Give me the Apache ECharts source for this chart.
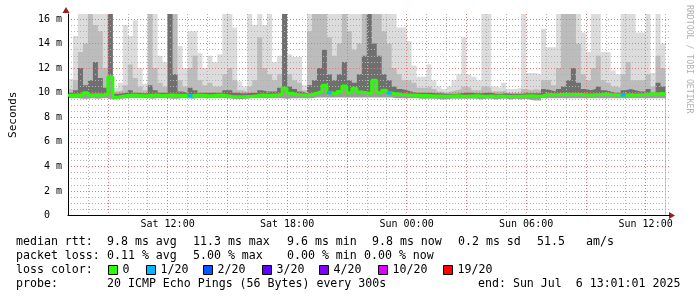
<!DOCTYPE html>
<html><head><meta charset="utf-8">
<script src="https://cdn.jsdelivr.net/npm/echarts@6/dist/echarts.min.js"></script>
<style>html,body{margin:0;padding:0;background:#fff}#c{width:697px;height:297px}</style>
</head><body><div id="c"></div>
<script>
// time axis: hours since Sat 07:00, one column per 15 minutes
const stepHours = 0.25;
const xTickHours = [5, 11, 17, 23, 29];
const xTickLabels = ['Sat 12:00', 'Sat 18:00', 'Sun 00:00', 'Sun 06:00', 'Sun 12:00'];
const yTickValues = [0, 2, 4, 6, 8, 10, 12, 14, 16];
const yTickLabels = ['0  ', '2 m', '4 m', '6 m', '8 m', '10 m', '12 m', '14 m', '16 m'];

// median rtt (ms)
const medianRtt = [
 9.78, 9.80, 9.78, 10.00, 9.80, 9.82, 9.80, 9.86, 11.30, 9.62,
 9.70, 9.76, 9.80, 9.78, 9.75, 9.76, 9.78, 9.80, 9.76, 9.78,
 9.80, 9.78, 9.76, 9.78, 9.74, 9.80, 9.78, 9.76, 9.75, 9.78,
 9.80, 9.74, 9.68, 9.66, 9.66, 9.68, 9.70, 9.74, 9.80, 9.78,
 9.78, 9.80, 9.90, 10.35, 9.95, 9.85, 9.82, 9.80, 9.85, 9.95,
 10.10, 10.60, 10.00, 9.85, 10.10, 10.55, 10.00, 10.35, 10.05, 10.00,
 9.90, 11.00, 10.00, 10.20, 9.97, 9.90, 9.85, 9.82, 9.80, 9.78,
 9.76, 9.76, 9.74, 9.72, 9.72, 9.70, 9.72, 9.74, 9.72, 9.70,
 9.72, 9.74, 9.72, 9.70, 9.72, 9.70, 9.72, 9.70, 9.68, 9.70,
 9.70, 9.72, 9.74, 9.72, 9.70, 9.82, 9.84, 9.82, 9.84, 9.86,
 9.84, 9.86, 9.84, 9.82, 9.80, 9.82, 9.84, 9.88, 9.84, 9.82,
 9.80, 9.80, 9.82, 9.80, 9.82, 9.84, 9.90, 9.86, 9.92, 9.90
];
// lost pings out of 20 per column
const lossCount = [
 0,0,0,0,0,0,0,0,0,0, 0,0,0,0,0,0,0,0,0,0,
 0,0,0,0,1,0,0,0,0,0, 0,0,0,0,0,0,0,0,0,0,
 0,0,0,0,0,0,0,0,0,0, 0,0,1,0,0,0,0,0,0,0,
 0,0,0,0,1,0,0,0,0,0, 0,0,0,0,0,0,0,0,0,0,
 0,0,0,0,0,0,0,0,0,0, 0,0,0,0,0,0,0,0,0,0,
 0,0,0,0,0,0,0,0,0,0, 0,1,0,0,0,0,0,0,0,0
];
// smoke: lowest ping, top of dark core, top of mid band, highest ping (ms)
const smokeLow = [
 9.55, 9.55, 9.50, 9.50, 9.55, 9.50, 9.55, 9.55, 9.45, 9.50,
 9.50, 9.55, 9.55, 9.55, 9.55, 9.55, 9.50, 9.55, 9.55, 9.55,
 9.50, 9.50, 9.55, 9.55, 9.50, 9.55, 9.55, 9.55, 9.55, 9.55,
 9.55, 9.55, 9.50, 9.48, 9.48, 9.50, 9.55, 9.55, 9.55, 9.55,
 9.55, 9.55, 9.55, 9.50, 9.55, 9.55, 9.55, 9.55, 9.55, 9.60,
 9.60, 9.60, 9.60, 9.60, 9.60, 9.60, 9.60, 9.60, 9.60, 9.60,
 9.60, 9.60, 9.60, 9.60, 9.60, 9.55, 9.55, 9.55, 9.55, 9.55,
 9.50, 9.50, 9.50, 9.50, 9.45, 9.45, 9.50, 9.50, 9.50, 9.50,
 9.50, 9.50, 9.45, 9.50, 9.50, 9.45, 9.50, 9.50, 9.45, 9.50,
 9.45, 9.50, 9.40, 9.35, 9.35, 9.55, 9.55, 9.55, 9.55, 9.55,
 9.55, 9.55, 9.55, 9.55, 9.55, 9.55, 9.55, 9.55, 9.55, 9.55,
 9.55, 9.55, 9.55, 9.55, 9.55, 9.55, 9.55, 9.55, 9.55, 9.55
];
const smokeDark = [
 10.0, 10.2, 12.0, 10.6, 11.0, 12.5, 11.2, 10.4, 16.4, 9.9,
 9.95, 10.0, 10.2, 10.0, 9.95, 9.95, 10.6, 10.2, 10.0, 10.0,
 16.4, 11.5, 10.1, 10.0, 10.4, 10.2, 10.0, 10.0, 10.0, 10.0,
 10.0, 10.2, 10.2, 10.0, 9.95, 9.95, 10.0, 10.0, 10.2, 10.1,
 10.1, 10.1, 10.4, 16.4, 10.5, 10.3, 10.1, 9.95, 10.6, 11.0,
 12.0, 13.5, 11.5, 11.0, 11.5, 12.5, 11.0, 10.8, 11.5, 13.0,
 16.4, 14.0, 13.0, 11.5, 11.0, 10.5, 10.3, 10.2, 10.1, 10.0,
 10.0, 10.0, 10.0, 9.95, 9.95, 9.9, 9.9, 9.9, 9.95, 10.0,
 10.0, 9.95, 9.95, 10.0, 10.0, 9.9, 9.9, 9.95, 9.9, 9.9,
 9.9, 9.95, 9.95, 9.95, 9.95, 10.3, 10.2, 10.1, 10.3, 10.5,
 11.0, 12.0, 10.8, 10.3, 10.2, 10.3, 10.5, 10.2, 10.1, 10.0,
 10.0, 10.2, 10.3, 10.2, 10.1, 10.1, 10.3, 10.0, 10.8, 10.5
];
const smokeMid = [
 10.3, 11.0, 13.3, 14.0, 16.4, 15.5, 15.0, 12.0, 16.4, 10.1,
 10.2, 10.6, 12.3, 11.2, 10.5, 10.2, 16.4, 12.0, 10.8, 10.5,
 16.4, 16.4, 11.0, 10.5, 12.0, 13.0, 11.0, 10.6, 10.8, 10.5,
 10.5, 11.5, 12.0, 11.0, 10.2, 10.1, 10.5, 11.0, 14.5, 12.0,
 11.5, 11.0, 11.5, 16.4, 11.5, 11.0, 10.8, 10.2, 15.0, 16.4,
 16.4, 16.4, 14.5, 13.0, 14.0, 16.4, 15.0, 13.5, 14.0, 16.4,
 16.4, 16.4, 16.4, 15.0, 14.0, 12.0, 11.5, 11.0, 11.0, 10.8,
 10.4, 10.4, 10.5, 10.3, 10.1, 10.0, 10.1, 10.2, 10.3, 10.5,
 10.4, 10.2, 10.2, 10.5, 10.4, 10.1, 10.1, 10.2, 10.0, 10.0,
 10.0, 10.3, 10.2, 10.3, 10.2, 11.0, 11.0, 10.6, 12.0, 16.4,
 16.4, 16.4, 14.0, 11.5, 11.0, 12.0, 13.0, 11.0, 10.8, 10.5,
 10.4, 11.5, 12.5, 11.0, 11.0, 11.0, 11.5, 10.5, 13.0, 12.0
];
const smokeMax = [
 11.1, 14.6, 16.4, 16.4, 16.4, 16.4, 16.4, 16.4, 16.4, 10.4,
 10.8, 15.5, 14.6, 15.9, 12.0, 10.7, 16.4, 16.4, 13.0, 12.5,
 16.4, 16.4, 13.8, 12.0, 15.0, 15.0, 13.2, 12.0, 13.0, 12.5,
 13.1, 16.4, 16.4, 15.3, 10.9, 10.5, 16.4, 15.5, 16.4, 15.5,
 16.4, 12.5, 13.0, 16.4, 13.1, 12.9, 12.9, 10.6, 16.4, 16.4,
 16.4, 16.4, 16.4, 16.4, 16.4, 16.4, 16.4, 16.4, 16.4, 16.4,
 16.4, 16.4, 16.4, 16.4, 16.4, 16.4, 15.3, 15.3, 14.2, 12.2,
 11.3, 11.3, 12.3, 11.0, 10.5, 10.3, 10.5, 11.0, 11.5, 14.5,
 11.5, 11.3, 11.0, 16.4, 16.4, 10.5, 10.4, 10.8, 10.3, 10.3,
 10.4, 16.4, 11.6, 11.6, 11.5, 15.2, 13.7, 13.7, 16.4, 16.4,
 16.4, 16.4, 16.4, 14.9, 13.3, 16.4, 16.4, 13.3, 13.3, 11.8,
 11.5, 16.4, 16.4, 16.4, 14.9, 14.9, 16.4, 11.6, 16.4, 14.0
];

const lossLevels = [0, 1, 2, 3, 4, 10, 19];
const lossLabels = ['0', '1/20', '2/20', '3/20', '4/20', '10/20', '19/20'];
const lossColors = ['#26ff00', '#00b8ff', '#0059ff', '#5e00ff', '#7e00ff', '#dd00ff', '#ff0000'];

const statRows = [
  ['median rtt:', '9.8 ms avg', '11.3 ms max', '9.6 ms min', '9.8 ms now', '0.2 ms sd', '51.5', 'am/s'],
  ['packet loss:', '0.11 % avg', '5.00 % max', '0.00 % min', '0.00 % now']
];
const probeText = ['probe:', '20 ICMP Echo Pings (56 Bytes) every 300s', 'end: Sun Jul  6 13:01:01 2025'];

// ---------- build ----------
const n = medianRtt.length;
const xs = [];
for (let i = 0; i <= n; i++) xs.push(i * stepHours);
const ext = a => a.concat([a[a.length - 1]]);
const pts = a => ext(a).map((v, i) => [xs[i], v]);

const MONO = '"DejaVu Sans Mono", monospace';
// smoke drawn back-to-front: each band is an area down to the axis, painted over the previous one
function band(name, arr, color) {
  return { type: 'line', name, step: 'end', symbol: 'none', silent: true,
    data: pts(arr), lineStyle: { width: 0 }, areaStyle: { color, opacity: 1 }, z: 1 };
}
const series = [
  band('max', smokeMax, '#dcdcdc'),
  band('mid', smokeMid, '#bcbcbc'),
  band('dark', smokeDark, '#6f6f6f'),
  band('median', medianRtt, '#9c9c9c'),
  band('low', smokeLow, '#ffffff'),
  { type: 'line', name: 'medianLine', step: 'end', symbol: 'none', silent: true, z: 5,
    data: pts(medianRtt), lineStyle: { color: lossColors[0], width: 3 } }
];
lossCount.forEach((c, i) => {
  if (c > 0) {
    let k = 0;
    lossLevels.forEach((lv, j) => { if (c >= lv) k = j; });
    series.push({ type: 'line', step: 'end', symbol: 'none', silent: true, z: 6,
      data: [[xs[i], medianRtt[i]], [xs[i + 1], medianRtt[i]]],
      lineStyle: { color: lossColors[k], width: 3 } });
  }
});

const minorC = '#b2b2b2', majorC = '#e07a7a';
const yColors = [minorC, minorC, minorC, majorC];
const xColors = [minorC, majorC, minorC];

// legend graphics
const graphics = [];
const font = '11.6px ' + MONO;
const rowY = [242, 256, 270, 284];
const row0X = [16, 107, 193, 287, 372, 458, 537, 586];
const row1X = [16, 107, 193, 287, 364];
statRows[0].forEach((t, k) => graphics.push({ type: 'text', x: row0X[k], y: rowY[0], style: { text: t, font, fill: '#000', verticalAlign: 'middle' } }));
statRows[1].forEach((t, k) => graphics.push({ type: 'text', x: row1X[k], y: rowY[1], style: { text: t, font, fill: '#000', verticalAlign: 'middle' } }));
graphics.push({ type: 'text', x: 16, y: rowY[2], style: { text: 'loss color:', font, fill: '#000', verticalAlign: 'middle' } });
const sqX = [108, 146, 203, 262, 319, 378, 443];
lossLabels.forEach((t, k) => {
  graphics.push({ type: 'rect', shape: { x: sqX[k] + 0.5, y: rowY[2] - 4.5, width: 9, height: 9 }, style: { fill: lossColors[k], stroke: '#000', lineWidth: 1 } });
  graphics.push({ type: 'text', x: sqX[k] + 14.5, y: rowY[2], style: { text: t, font, fill: '#000', verticalAlign: 'middle' } });
});
const probeX = [16, 107, 478];
probeText.forEach((t, k) => graphics.push({ type: 'text', x: probeX[k], y: rowY[3], style: { text: t, font, fill: '#000', verticalAlign: 'middle' } }));
// axis arrows
graphics.push({ type: 'polygon', shape: { points: [[62.5, 13], [69.5, 13], [66, 7]] }, style: { fill: '#9a2020' } });
graphics.push({ type: 'polygon', shape: { points: [[669, 212], [669, 219], [675, 215.5]] }, style: { fill: '#9a2020' } });
// watermark
graphics.push({ type: 'text', x: 689, y: 5, rotation: -Math.PI / 2,
  style: { text: 'RRDTOOL / TOBI OETIKER', font: '8.2px ' + MONO, fill: '#b0b0b0', verticalAlign: 'middle', align: 'left' } });

const chart = echarts.init(document.getElementById('c'), null, { renderer: 'canvas' });
chart.setOption({
  animation: false,
  backgroundColor: '#ffffff',
  grid: { left: 65.5, right: 27.5, top: 14, bottom: 81.5, containLabel: false },
  xAxis: {
    type: 'value', min: 0, max: 30.2, interval: 1, z: 3,
    axisLine: { show: true, onZero: false, lineStyle: { color: '#000', width: 1 } },
    axisTick: { show: false },
    axisLabel: { margin: 4, fontFamily: MONO, fontSize: 10, color: '#000',
      formatter: v => { const k = xTickHours.indexOf(v); return k >= 0 ? xTickLabels[k] : ''; } },
    splitLine: { show: true, showMinLine: false, showMaxLine: false, lineStyle: { color: xColors, type: [1, 2], width: 1 } }
  },
  yAxis: {
    type: 'value', min: 0, max: 16.4, interval: 0.5, z: 3,
    name: 'Seconds', nameLocation: 'middle', nameGap: 49,
    nameTextStyle: { fontFamily: MONO, fontSize: 11, color: '#000' },
    axisLine: { show: true, lineStyle: { color: '#000', width: 1 } },
    axisTick: { show: false },
    axisLabel: { margin: 6, fontFamily: MONO, fontSize: 10, color: '#000',
      formatter: v => { const k = yTickValues.indexOf(v); return k >= 0 ? yTickLabels[k] : ''; } },
    splitLine: { show: true, showMinLine: false, showMaxLine: false, lineStyle: { color: yColors, type: [1, 2], width: 1 } }
  },
  series,
  graphic: graphics
});
</script>
</body></html>
